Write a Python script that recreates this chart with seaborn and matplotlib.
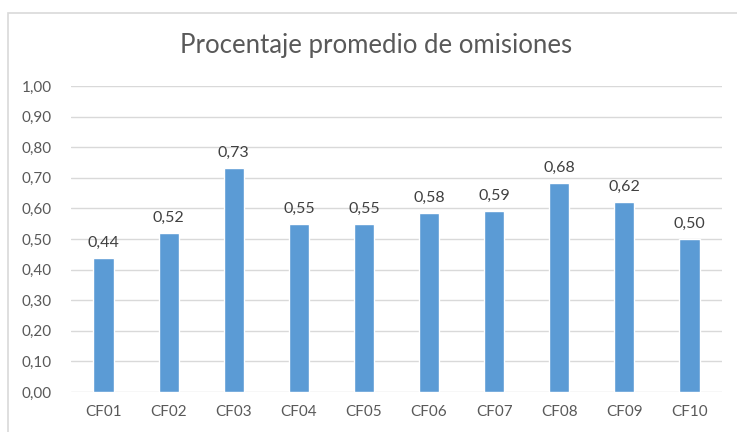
import numpy as np
import pandas as pd
import matplotlib
matplotlib.use("Agg")
import matplotlib.pyplot as plt
import seaborn as sns
from matplotlib.patches import Rectangle
from matplotlib.ticker import FuncFormatter

CATEGORIES = ["CF01", "CF02", "CF03", "CF04", "CF05",
              "CF06", "CF07", "CF08", "CF09", "CF10"]
VALUES = [0.438, 0.52, 0.732, 0.549, 0.548, 0.584, 0.591, 0.682, 0.621, 0.499]
Y_TICKS = [0.0, 0.1, 0.2, 0.3, 0.4, 0.5, 0.6, 0.7, 0.8, 0.9, 1.0]
TITLE = "Procentaje promedio de omisiones"

BAR_COLOR = "#5B9BD5"
GRID_COLOR = "#D9D9D9"
TEXT_COLOR = "#595959"
FONT = ["Lato", "DejaVu Sans"]


def comma(v, _pos=None):
    return f"{v:.2f}".replace(".", ",")


def main():
    sns.set_theme(style="white")
    plt.rcParams["font.family"] = FONT

    df = pd.DataFrame({"cat": CATEGORIES, "val": VALUES})

    fig = plt.figure(figsize=(7.37, 4.32), dpi=100)
    ax = fig.add_axes([71 / 737, 1 - 392 / 432, 651 / 737, 306 / 432])

    # outer chart border, like the Excel chart area
    fig.patches.append(Rectangle((8 / 737, -0.05), 1.2, 1 - 13 / 432 + 0.05,
                                 transform=fig.transFigure, fill=False,
                                 edgecolor=GRID_COLOR, linewidth=1.2))

    sns.barplot(data=df, x="cat", y="val", color=BAR_COLOR, width=0.31,
                saturation=1, ax=ax, zorder=3)

    ax.set_ylim(0, 1.0)
    ax.set_yticks(Y_TICKS)
    ax.yaxis.set_major_formatter(FuncFormatter(comma))
    ax.grid(axis="y", color=GRID_COLOR, linewidth=1, zorder=0)
    ax.set_axisbelow(True)
    for s in ax.spines.values():
        s.set_visible(False)
    ax.set_xlabel("")
    ax.set_ylabel("")
    ax.tick_params(axis="both", length=0, labelsize=11, colors=TEXT_COLOR)
    ax.tick_params(axis="y", pad=14)
    ax.tick_params(axis="x", pad=9)

    for container in ax.containers:
        ax.bar_label(container, labels=[comma(v) for v in VALUES],
                     padding=6, fontsize=11.5, color="#404040")

    fig.text(376 / 737, 1 - 46 / 432, TITLE, ha="center", va="center",
             fontsize=18.5, color=TEXT_COLOR)

    fig.savefig("out.png", dpi=100)


if __name__ == "__main__":
    main()
